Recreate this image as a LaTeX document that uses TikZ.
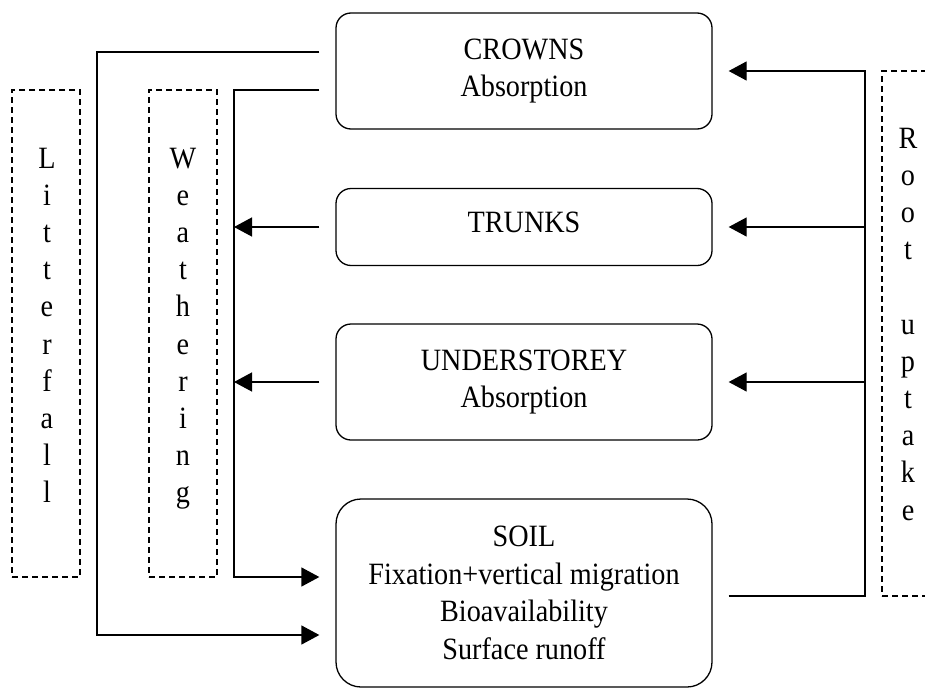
\documentclass[tikz,border=0pt]{standalone}
\usepackage{fontspec}
\setmainfont{Liberation Serif}
\newfontfamily\boxfont[FakeStretch=0.91]{Liberation Serif}
\usetikzlibrary{arrows.meta}
\begin{document}
\begin{tikzpicture}[x=1pt,y=-1pt,
  every node/.style={font=\boxfont\fontsize{31}{37.2}\selectfont, inner sep=0pt},
  compbox/.style={draw, line width=1.3pt, rounded corners=15pt, minimum width=376pt, align=center,
    font=\boxfont\fontsize{31}{37.5}\selectfont},
  dbox/.style={draw, line width=1.3pt, dash pattern=on 6pt off 4pt, minimum width=68pt},
  vtext/.style={align=center, anchor=north},
  conn/.style={line width=1.3pt},
  arr/.style={conn, -{Triangle[length=18pt,width=19pt]}}]
\useasboundingbox (0,0) rectangle (925,688);
% component boxes
\node[compbox, minimum height=116pt] (crowns) at (524,71) {CROWNS\\Absorption};
\node[compbox, minimum height=77pt, text depth=9pt] (trunks) at (524,227) {TRUNKS};
\node[compbox, minimum height=116pt] (under) at (524,382) {UNDERSTOREY\\Absorption};
\node[compbox, rounded corners=25pt, minimum height=188pt] (soil) at (524,593) {SOIL\\Fixation+vertical migration\\Bioavailability\\Surface runoff};
% dashed label boxes
\node[dbox, minimum height=487pt] (litbox) at (46,333.5) {};
\node[dbox, minimum height=487pt] (weabox) at (183,333.5) {};
\node[dbox, minimum width=50pt, minimum height=525pt] (rootbox) at (907,333.5) {};
\node[vtext] (littxt) at (47,147.5) {L\\i\\t\\t\\e\\r\\f\\a\\l\\l};
\node[vtext] (weatxt) at (183,147.5) {W\\e\\a\\t\\h\\e\\r\\i\\n\\g};
\node[vtext] (roottxt) at (908,127.5) {R\\o\\o\\t\\\mbox{}\\u\\p\\t\\a\\k\\e};
% litterfall connector
\draw[arr] ([xshift=-16pt]crowns.west |- 0,52) -| (97,635) -- ([xshift=-16pt]soil.west |- 0,635);
% weathering connector
\draw[arr] ([xshift=-16pt]crowns.west |- 0,90) -| (234,577) -- ([xshift=-16pt]soil.west |- 0,577);
\draw[arr] ([xshift=-16pt]trunks.west) -- (234,227);
\draw[arr] ([xshift=-16pt]under.west) -- (234,382);
% root uptake connector
\draw[arr] ([xshift=16pt]soil.east |- 0,596) -| (865,71) -- ([xshift=16pt]crowns.east);
\draw[arr] (865,227) -- ([xshift=16pt]trunks.east);
\draw[arr] (865,382) -- ([xshift=16pt]under.east);
\end{tikzpicture}
\end{document}
